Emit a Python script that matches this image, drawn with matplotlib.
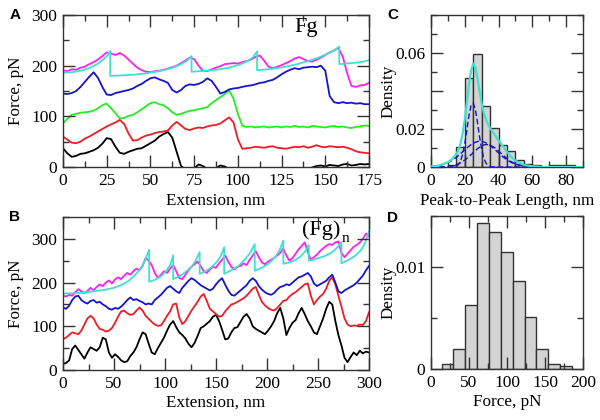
import matplotlib
matplotlib.use('Agg')
import matplotlib.pyplot as plt
from matplotlib.ticker import MultipleLocator, FixedLocator, FixedFormatter
import numpy as np

plt.rcParams['font.family'] = ['Liberation Serif', 'DejaVu Serif']

# ---------------- Panel A data (Fg) ----------------
a_ext = np.arange(0, 175.01, 2.5)
a_magenta = [191,189,193,192,196,198,203,207,212,219,
             226,224,221,225,220,212,204,196,191,188,
             187,189,190,192,194,197,200,205,210,216,
             213,200,190,189,193,196,199,203,204,205,
             204,207,209,212,217,220,210,198,195,198,
             201,205,209,214,217,213,209,208,212,216,
             221,226,230,235,218,185,160,158,161,162,166]
a_blue = [145,144,146,150,158,168,178,187,176,158,
          143,142,146,148,150,152,155,160,164,170,
          175,177,173,170,166,152,147,152,160,163,
          162,164,168,175,170,158,145,148,153,155,
          156,158,160,161,163,166,167,170,172,177,
          183,188,192,195,193,196,197,198,197,200,
          190,140,128,126,128,126,127,125,126,124,124]
a_green = [86,95,103,105,107,108,109,111,116,122,
           125,116,106,96,97,101,103,108,114,120,
           126,128,124,122,116,108,103,105,108,111,
           112,114,116,118,126,132,138,144,151,135,
           105,82,79,80,78,79,80,78,79,80,
           78,80,79,81,79,80,78,81,80,79,
           78,80,81,79,80,78,77,79,80,82,81]
a_red = [60,54,48,47,50,56,60,65,70,75,
         80,84,88,93,85,66,52,53,58,62,
         64,67,69,70,72,82,89,82,75,73,
         76,78,77,80,82,83,86,92,98,88,
         55,36,37,38,40,39,38,40,41,38,
         37,36,38,40,39,41,38,40,43,40,
         39,41,40,39,40,38,35,31,29,28,27]
a_black = [37,27,20,22,26,27,30,33,38,46,
           57,55,40,28,26,30,33,36,37,42,
           47,52,60,65,69,58,30,2,-5,-4,
           -3,5,2,-4,-3,-2,3,1,-4,-3,
           -2,-4,-3,-5,-4,-3,-2,-4,-3,-5,
           -4,-3,-2,-4,-3,-2,-3,-1,2,3,
           1,4,3,2,5,6,3,4,6,5,6]
a_fit_x = [0,5,10,15,20,23,25.5,27, 27,32,40,48,55,62,67,71,73.5,
           73.5,80,88,95,101,105,108.5,111, 111,118,126,134,141,147,152,155.5,158,
           158,163,168,172,175]
a_fit_y = [186,187,190,195,204,212,220,229, 180,180.5,182,185,189,195,202,210,219,
           188,189.5,192,196,202,208,216,228, 191,193,197,203,210,217,225,231,238,
           203,204.5,206,208,211]

# ---------------- Panel B data ((Fg)n) ----------------
b_ext = np.arange(0, 300.01, 3)
b_magenta = [170,168,172,170,178,185,180,176,181,188,
             182,190,196,192,200,205,198,207,212,208,
             216,222,218,226,232,228,238,256,250,240,
             222,210,218,226,222,232,240,226,210,208,
             218,228,236,242,248,238,226,222,230,236,
             234,244,252,262,248,236,230,236,238,244,
             240,252,262,272,258,246,242,248,252,256,
             262,268,278,262,250,256,266,276,284,292,
             270,252,258,264,272,278,284,288,286,292,
             294,268,258,266,274,282,286,292,300,312,306]
b_blue = [143,140,147,160,168,170,160,155,152,158,
          160,154,156,150,146,140,138,142,140,145,
          152,160,166,160,162,158,155,150,152,150,
          160,166,172,180,188,192,186,180,176,188,
          196,204,210,206,200,194,190,186,182,186,
          196,204,210,195,182,172,170,176,182,188,
          194,204,210,204,192,184,178,174,172,176,
          184,190,192,196,194,200,206,212,214,218,
          222,214,198,192,196,200,204,212,218,200,
          180,176,182,186,190,194,200,208,216,228,238]
b_red = [71,74,80,86,84,82,90,104,118,124,
         118,104,94,92,88,90,96,108,122,134,
         136,130,126,128,136,143,136,124,117,110,
         104,101,102,112,124,134,150,152,120,105,
         112,124,136,146,156,168,174,158,140,134,
         128,122,124,134,142,150,152,156,160,164,
         170,178,186,190,172,156,148,142,138,136,
         142,150,158,160,168,174,178,184,190,196,
         198,170,150,160,168,174,186,204,212,196,
         170,145,118,104,100,102,101,104,103,112,132]
b_black = [14,16,22,48,56,46,36,26,40,52,
           48,44,52,74,70,40,28,36,30,22,
           18,20,32,40,52,70,86,82,60,40,
           36,50,62,74,90,104,112,98,86,80,
           72,60,52,62,78,96,100,106,112,122,
           126,112,92,70,72,86,96,98,110,122,
           128,118,100,94,90,86,82,90,100,112,
           130,142,118,80,96,108,114,130,142,128,
           112,100,86,82,100,118,140,156,150,112,
           80,56,28,18,30,40,34,44,38,42,40]
b_fit_x = [0,10,20,30,40,50,58,65,71,76,80,84.5,
           84.5,90,96,101,105,108, 108,114,120,126,130,134,
           134,140,146,151,155,158, 158,165,172,178,183,188,
           188,195,202,208,212,216, 216,222,228,233,237,241,
           241,248,256,263,268,273, 273,280,287,292,296,300]
b_fit_y = [175,175.5,177,180,183,188,195,205,218,232,248,275,
           202,206,214,226,240,262, 208,214,224,236,250,270,
           220,226,236,248,262,281, 220,228,238,252,266,288,
           227,234,244,258,272,296, 243,246,252,260,270,286,
           250,254,260,268,278,292, 244,252,262,274,290,318]

# ---------------- Panel C data ----------------
c_bin_left = [10,15,20,25,30,35,40,45,50,55,60,65,70,75,80]
c_density = [0.0012,0.0104,0.047,0.0593,0.032,0.0203,0.0116,0.0083,0.0038,0.0017,0.0009,0.0,0.0009,0.0009,0.0009]
c_curve_x = [0,5,10,12.5,15,16.25,17.5,18.75,20,21.25,22.5,23.75,25,26.25,27.5,28.75,30,
             31.25,32.5,33.75,35,37.5,40,42.5,45,47.5,50,55,60,65,70,80,90]
c_total = [0.0002,0.0008,0.0025,0.0042,0.0068,0.0090,0.0123,0.0176,0.0250,0.0341,0.0435,0.0507,
           0.0545,0.0525,0.0466,0.0398,0.0335,0.0285,0.0250,0.0225,0.0205,0.0172,0.0140,0.0110,
           0.0080,0.0052,0.0033,0.0011,0.0003,0.0001,0.0,0.0,0.0]
c_comp1 = [0,0,0,0.00004,0.00045,0.00127,0.0031,0.0067,0.0123,0.0196,0.0271,0.0324,0.0337,
           0.0303,0.0236,0.0159,0.0093,0.0047,0.0021,0.0008,0.00026,0.00002,0,0,0,0,0,0,0,0,0,0,0]
c_comp2 = [0.0002,0.00076,0.0022,0.0035,0.0051,0.0060,0.0070,0.0080,0.0090,0.0100,0.0109,0.0118,
           0.0125,0.0130,0.0134,0.0135,0.0135,0.0132,0.0127,0.0121,0.0113,0.0094,0.0074,0.0054,
           0.0038,0.0024,0.0015,0.00046,0.0001,0,0,0,0]
c_comp3 = [0,0.00005,0.0003,0.00064,0.00125,0.0017,0.0022,0.0029,0.0037,0.0045,0.0055,0.0065,
           0.0076,0.0086,0.0096,0.0104,0.0111,0.0116,0.0118,0.0118,0.0115,0.0103,0.0084,0.0063,
           0.0044,0.0028,0.0016,0.0004,0.0001,0,0,0,0]

# ---------------- Panel D data ----------------
d_bin_left = [14,29.6,45.2,60.8,76.4,92,107.6,123.2,138.8,154.4,170]
d_density = [0.0005,0.002,0.0063,0.01435,0.01346,0.01144,0.0086,0.0051,0.002,0.0005,0.0003]
d_width = 15.6

W, H = 600, 420
fig = plt.figure(figsize=(6, 4.2), dpi=100)

def px_axes(l, t, r, b):
    return fig.add_axes([l / W, 1 - b / H, (r - l) / W, (b - t) / H])

axA = px_axes(63, 15, 369, 167)
axB = px_axes(63, 217, 369, 370)
axC = px_axes(431, 15, 583, 167)
axD = px_axes(431, 216, 583, 369)

spine_col = '#333333'
LABEL_FS = 12.3
def style(ax):
    for s in ax.spines.values():
        s.set_color(spine_col)
        s.set_linewidth(1.0)
    ax.tick_params(which='both', direction='in', top=True, right=True,
                   colors=spine_col, labelcolor='black', labelsize=12.5, width=1.0)
    ax.tick_params(which='major', length=8.5, pad=4)
    ax.tick_params(which='minor', length=4.5)
    ax.set_axisbelow(False)

col_m = '#ff1ff0'
col_c = '#40e0d0'
col_b = '#1414cc'
col_g = '#22ee22'
col_r = '#ee1c24'
lw = 1.3

# Panel A
axA.plot(a_ext, a_black, color='black', lw=lw)
axA.plot(a_ext, a_red, color=col_r, lw=lw)
axA.plot(a_ext, a_green, color=col_g, lw=lw)
axA.plot(a_ext, a_blue, color=col_b, lw=lw)
axA.plot(a_ext, a_magenta, color=col_m, lw=lw)
axA.plot(a_fit_x, a_fit_y, color=col_c, lw=lw)
axA.set_xlim(0, 175)
axA.set_ylim(0, 300)
axA.xaxis.set_major_locator(MultipleLocator(25))
axA.xaxis.set_minor_locator(MultipleLocator(12.5))
axA.yaxis.set_major_locator(MultipleLocator(100))
axA.yaxis.set_minor_locator(MultipleLocator(50))
style(axA)
axA.set_xlabel('Extension, nm', fontsize=LABEL_FS)
axA.set_ylabel('Force, pN', fontsize=LABEL_FS)
axA.xaxis.set_label_coords(0.5, -0.171)
axA.yaxis.set_label_coords(-0.127, 0.5)
axA.text(0.757, 0.885, 'Fg', transform=axA.transAxes, fontsize=16, ha='left', va='baseline')

# Panel B
axB.plot(b_ext, b_black, color='black', lw=lw)
axB.plot(b_ext, b_red, color=col_r, lw=lw)
axB.plot(b_ext, b_blue, color=col_b, lw=lw)
axB.plot(b_ext, b_magenta, color=col_m, lw=lw)
axB.plot(b_fit_x, b_fit_y, color=col_c, lw=lw)
axB.set_xlim(0, 300)
axB.set_ylim(0, 350)
axB.xaxis.set_major_locator(MultipleLocator(50))
axB.xaxis.set_minor_locator(MultipleLocator(25))
axB.yaxis.set_major_locator(MultipleLocator(100))
axB.yaxis.set_minor_locator(MultipleLocator(50))
style(axB)
axB.set_xlabel('Extension, nm', fontsize=LABEL_FS)
axB.set_ylabel('Force, pN', fontsize=LABEL_FS)
axB.xaxis.set_label_coords(0.5, -0.163)
axB.yaxis.set_label_coords(-0.127, 0.5)
axB.text(0.782, 0.885, '(Fg)', transform=axB.transAxes, fontsize=16, ha='left', va='baseline')
axB.text(0.912, 0.835, 'n', transform=axB.transAxes, fontsize=11, ha='left', va='baseline')

# Panel C
axC.bar(c_bin_left, c_density, width=5, align='edge', color='#d4d4d4',
        edgecolor='#333333', linewidth=1.0, zorder=1)
axC.plot(c_curve_x, c_comp1, color=col_b, lw=1.0, ls=(0, (4, 2)), zorder=2)
axC.plot(c_curve_x, c_comp2, color=col_b, lw=1.0, ls=(0, (4, 2)), zorder=2)
axC.plot(c_curve_x, c_comp3, color=col_b, lw=1.0, ls=(0, (4, 2)), zorder=2)
axC.plot(c_curve_x, c_total, color=col_c, lw=1.6, zorder=3)
axC.set_xlim(0, 90)
axC.set_ylim(0, 0.08)
axC.xaxis.set_major_locator(MultipleLocator(20))
axC.xaxis.set_minor_locator(MultipleLocator(10))
axC.yaxis.set_major_locator(FixedLocator([0, 0.02, 0.04, 0.06]))
axC.yaxis.set_major_formatter(FixedFormatter(['0', '0.02', '', '0.06']))
axC.yaxis.set_minor_locator(MultipleLocator(0.01))
style(axC)
axC.set_xlabel('Peak-to-Peak Length, nm', fontsize=LABEL_FS)
axC.set_ylabel('Density', fontsize=LABEL_FS)
axC.xaxis.set_label_coords(0.5, -0.171)
axC.yaxis.set_label_coords(-0.224, 0.5)

# Panel D
axD.bar(d_bin_left, d_density, width=d_width, align='edge', color='#d4d4d4',
        edgecolor='#333333', linewidth=1.0, zorder=1)
axD.set_xlim(0, 200)
axD.set_ylim(0, 0.015)
axD.xaxis.set_major_locator(MultipleLocator(50))
axD.xaxis.set_minor_locator(MultipleLocator(25))
axD.yaxis.set_major_locator(FixedLocator([0, 0.01]))
axD.yaxis.set_major_formatter(FixedFormatter(['0', '0.01']))
axD.yaxis.set_minor_locator(FixedLocator([0.005, 0.015]))
style(axD)
axD.set_xlabel('Force, pN', fontsize=LABEL_FS)
axD.set_ylabel('Density', fontsize=LABEL_FS)
axD.xaxis.set_label_coords(0.5, -0.163)
axD.yaxis.set_label_coords(-0.224, 0.5)

for lab, x, y in [('A', 15, 15), ('B', 15, 217), ('C', 393, 15), ('D', 393, 218)]:
    fig.text(x / W, 1 - y / H, lab, ha='center', va='center', fontsize=11,
             fontweight='bold', family=['Liberation Sans', 'DejaVu Sans'])

fig.savefig('out.png', dpi=100)
